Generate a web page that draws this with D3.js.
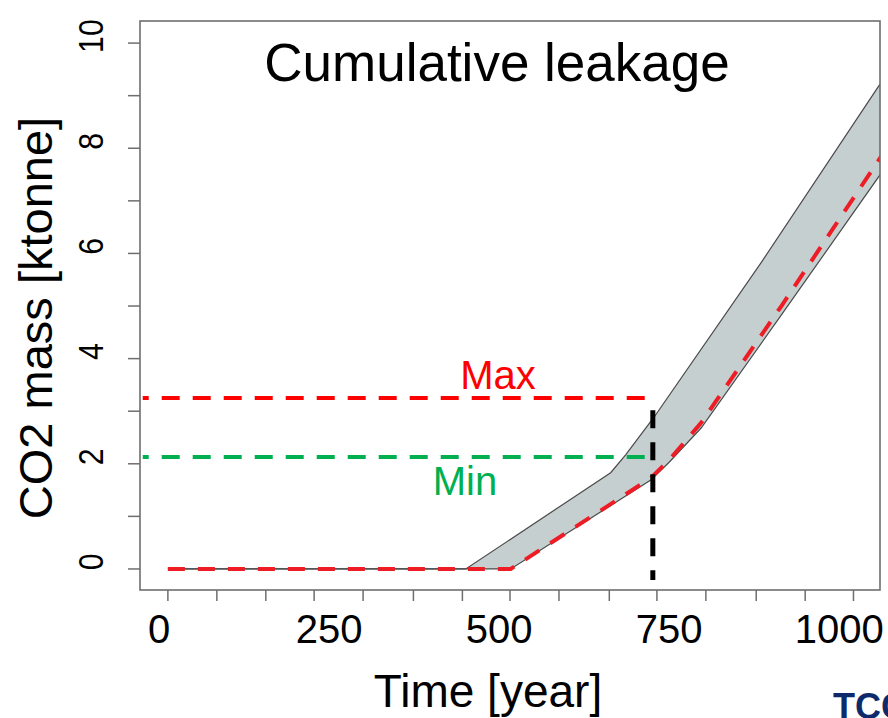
<!DOCTYPE html>
<html>
<head>
<meta charset="utf-8">
<script src="https://cdn.jsdelivr.net/npm/d3@7"></script>
<style>
  html, body { margin: 0; padding: 0; background: #fff; }
  svg { display: block; font-family: "Liberation Sans", Arial, sans-serif; }
</style>
</head>
<body>
<svg id="chart" width="888" height="718"></svg>
<script>
// ---- data ----
const upperYears  = [13, 451, 664, 686, 728, 885, 1062];
const upperValues = [0, 0, 1.83, 2.17, 2.89, 5.82, 9.26];
const lowerYears  = [13, 517, 723, 750, 797, 915, 1062];
const lowerValues = [0, 0, 1.69, 2.03, 2.68, 4.83, 7.53];
const redYears    = [13, 517, 723, 750, 797, 915, 1062];
const redValues   = [0, 0, 1.73, 2.07, 2.78, 5.0, 7.85];
const maxLevel = 3.25, minLevel = 2.13;
const refStartYear = -24, refEndYear = 715;
const markerYear = 726, markerTop = 3.02, markerBottom = -0.21;
const xTickLabels = [0, 250, 500, 750, 1000];
const xMinorTicks = [13, 85, 157, 228, 300, 374, 446, 516, 588, 662, 732, 804, 878, 950, 1021];
const yTicks = [0,1,2,3,4,5,6,7,8,9,10];
const yTickLabels = [0, 2, 4, 6, 8, 10];

// ---- layout ----
const svg = d3.select("#chart");
const m = {left: 140, top: 21, right: 8, bottom: 128};
const W = 888, H = 718;
const pw = W - m.left - m.right, ph = H - m.top - m.bottom;
const x = d3.scaleLinear().domain([-28, 1060]).range([m.left, m.left + pw]);
const y = d3.scaleLinear().domain([-0.4, 10.42]).range([m.top + ph, m.top]);

svg.append("defs").append("clipPath").attr("id", "clip")
  .append("rect").attr("x", m.left).attr("y", m.top).attr("width", pw).attr("height", ph);

const g = svg.append("g").attr("clip-path", "url(#clip)");

// band
const upperPts = upperYears.map((d, i) => [x(d), y(upperValues[i])]);
const lowerPts = lowerYears.map((d, i) => [x(d), y(lowerValues[i])]);
const band = upperPts.concat(lowerPts.slice().reverse());
const line = d3.line();
g.append("path").attr("d", line(band) + "Z").attr("fill", "#c6cfcf").attr("stroke", "none");
g.append("path").attr("d", line(upperPts)).attr("fill", "none").attr("stroke", "#4a4a4a").attr("stroke-width", 1.2);
g.append("path").attr("d", line(lowerPts)).attr("fill", "none").attr("stroke", "#4a4a4a").attr("stroke-width", 1.2);

// red dashed curve
const redPts = redYears.map((d, i) => [x(d), y(redValues[i])]);
g.append("path").attr("d", line(redPts)).attr("fill", "none")
  .attr("stroke", "#ee1c25").attr("stroke-width", 4).attr("stroke-dasharray", "17 13");

// Max / Min horizontal lines
g.append("line").attr("x1", x(refStartYear)).attr("x2", x(refEndYear))
  .attr("y1", y(maxLevel)).attr("y2", y(maxLevel))
  .attr("stroke", "#ff0000").attr("stroke-width", 4)
  .attr("stroke-dasharray", "18 13").attr("stroke-dashoffset", 12);
g.append("line").attr("x1", x(refStartYear)).attr("x2", x(refEndYear))
  .attr("y1", y(minLevel)).attr("y2", y(minLevel))
  .attr("stroke", "#00b050").attr("stroke-width", 4)
  .attr("stroke-dasharray", "18 13").attr("stroke-dashoffset", 12);

// vertical black marker
g.append("line").attr("x1", x(markerYear)).attr("x2", x(markerYear))
  .attr("y1", y(markerTop)).attr("y2", y(markerBottom))
  .attr("stroke", "#000").attr("stroke-width", 5).attr("stroke-dasharray", "18 14");

// box
svg.append("rect").attr("x", m.left).attr("y", m.top).attr("width", pw).attr("height", ph)
  .attr("fill", "none").attr("stroke", "#6e6e6e").attr("stroke-width", 1.6);

// y ticks
svg.append("g").selectAll("line").data(yTicks).join("line")
  .attr("x1", m.left - 12).attr("x2", m.left)
  .attr("y1", d => y(d)).attr("y2", d => y(d))
  .attr("stroke", "#6e6e6e").attr("stroke-width", 1.5);
svg.append("g").selectAll("text").data(yTickLabels).join("text")
  .attr("transform", d => `translate(103,${y(d) - 7}) rotate(-90) scale(0.84,1)`)
  .attr("text-anchor", "middle").attr("font-size", 36).attr("fill", "#000")
  .text(d => d);

// x ticks
svg.append("g").selectAll("line").data(xMinorTicks).join("line")
  .attr("x1", d => x(d)).attr("x2", d => x(d))
  .attr("y1", m.top + ph).attr("y2", m.top + ph + 11)
  .attr("stroke", "#6e6e6e").attr("stroke-width", 1.5);
svg.append("g").selectAll("text").data(xTickLabels).join("text")
  .attr("x", d => x(d)).attr("y", 643)
  .attr("text-anchor", "middle").attr("font-size", 40).attr("fill", "#000")
  .text(d => d);

// titles
svg.append("text").attr("x", 497).attr("y", 81).attr("text-anchor", "middle")
  .attr("font-size", 53).attr("fill", "#000").text("Cumulative leakage");
svg.append("text").attr("x", 488).attr("y", 707).attr("text-anchor", "middle")
  .attr("font-size", 46).attr("fill", "#000").text("Time [year]");
svg.append("text").attr("transform", "translate(52,318) rotate(-90)").attr("text-anchor", "middle")
  .attr("font-size", 47).attr("fill", "#000").text("CO2 mass [ktonne]");

// annotations
svg.append("text").attr("x", 498).attr("y", 389).attr("text-anchor", "middle")
  .attr("font-size", 40).attr("fill", "#ff0000").text("Max");
svg.append("text").attr("x", 465).attr("y", 495).attr("text-anchor", "middle")
  .attr("font-size", 40).attr("fill", "#00b050").text("Min");

// corner logo text (cut off at the page edge, as in the reference)
svg.append("text").attr("x", 833).attr("y", 719)
  .attr("font-size", 36).attr("font-weight", "bold").attr("fill", "#0f2a6b").text("TCCS");
</script>
</body>
</html>
